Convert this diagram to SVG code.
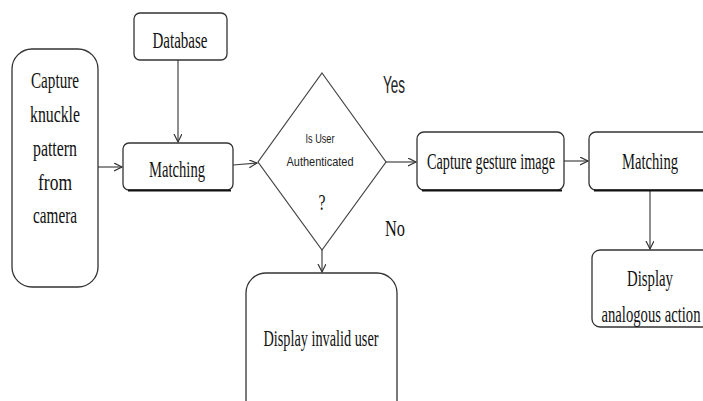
<svg xmlns="http://www.w3.org/2000/svg" width="703" height="401" viewBox="0 0 703 401">
<defs>
<marker id="arr" markerWidth="10" markerHeight="10" refX="8" refY="4" orient="auto" markerUnits="userSpaceOnUse">
<path d="M0,0 L8,4 L0,8" fill="none" stroke="#333" stroke-width="1.2"/>
</marker>
</defs>
<style>
.box{fill:#fff;stroke:#333;stroke-width:1.3}
.sh{stroke:#111;stroke-width:2.2;fill:none}
.t{font-family:"Liberation Serif","Times New Roman",serif;font-size:23px;fill:#111;text-anchor:middle}
.s{font-family:"Liberation Sans",Arial,sans-serif;fill:#222;text-anchor:middle}
.c{stroke:#444;stroke-width:1.2;fill:none;marker-end:url(#arr)}
</style>
<rect width="703" height="401" fill="#fff"/>
<g id="connectors">
<line class="c" x1="98" y1="167" x2="122" y2="167"/>
<line class="c" x1="178" y1="60" x2="178" y2="142"/>
<line class="c" x1="233" y1="165" x2="257" y2="163"/>
<line class="c" x1="386" y1="162" x2="416" y2="162"/>
<line class="c" x1="564" y1="161" x2="588" y2="161"/>
<line class="c" x1="650" y1="190" x2="650" y2="249"/>
<line class="c" x1="322" y1="250" x2="322" y2="272"/>
</g>
<g id="capture-knuckle">
<rect class="box" x="12" y="49" width="86" height="238" rx="20"/>
<text class="t" x="55" y="88" textLength="48" lengthAdjust="spacingAndGlyphs">Capture</text>
<text class="t" x="55" y="122" textLength="50" lengthAdjust="spacingAndGlyphs">knuckle</text>
<text class="t" x="55" y="156" textLength="44" lengthAdjust="spacingAndGlyphs">pattern</text>
<text class="t" x="55" y="190" textLength="34" lengthAdjust="spacingAndGlyphs">from</text>
<text class="t" x="55" y="223" textLength="44" lengthAdjust="spacingAndGlyphs">camera</text>
</g>
<g id="database">
<rect class="box" x="134" y="13" width="93" height="47" rx="6"/>
<text class="t" x="180" y="48" textLength="55" lengthAdjust="spacingAndGlyphs">Database</text>
</g>
<g id="matching1">
<rect class="box" x="123" y="143" width="110" height="47" rx="6"/>
<line class="sh" x1="128" y1="190.5" x2="231" y2="190.5"/>
<text class="t" x="177" y="177" textLength="56" lengthAdjust="spacingAndGlyphs">Matching</text>
</g>
<g id="decision">
<polygon points="322,73 386,162 322,250 258,162" fill="#fff" stroke="#444" stroke-width="1.2"/>
<text class="s" x="320" y="143" font-size="13" textLength="29" lengthAdjust="spacingAndGlyphs">Is User</text>
<text class="s" x="320" y="166" font-size="13" textLength="67" lengthAdjust="spacingAndGlyphs">Authenticated</text>
<text class="t" x="322" y="210" font-size="15" textLength="7" lengthAdjust="spacingAndGlyphs">?</text>
</g>
<text class="s" x="394" y="93" font-size="24" textLength="22" lengthAdjust="spacingAndGlyphs">Yes</text>
<text class="t" x="395" y="236" font-size="22" textLength="20" lengthAdjust="spacingAndGlyphs">No</text>
<g id="capture-gesture">
<rect class="box" x="417" y="132" width="147" height="58" rx="7"/>
<line class="sh" x1="422" y1="190.5" x2="562" y2="190.5"/>
<text class="t" x="491" y="169" textLength="128" lengthAdjust="spacingAndGlyphs">Capture gesture image</text>
</g>
<g id="matching2">
<rect class="box" x="589" y="132" width="124" height="58" rx="7"/>
<line class="sh" x1="594" y1="190.5" x2="703" y2="190.5"/>
<text class="t" x="650" y="169" textLength="56" lengthAdjust="spacingAndGlyphs">Matching</text>
</g>
<g id="display-analogous">
<rect class="box" x="592" y="250" width="121" height="77" rx="8"/>
<text class="t" x="650" y="286" textLength="46" lengthAdjust="spacingAndGlyphs">Display</text>
<text class="t" x="651" y="322" textLength="99" lengthAdjust="spacingAndGlyphs">analogous action</text>
</g>
<g id="display-invalid">
<rect class="box" x="246" y="273" width="151" height="150" rx="20"/>
<text class="t" x="321" y="346" textLength="115" lengthAdjust="spacingAndGlyphs">Display invalid user</text>
</g>
</svg>
